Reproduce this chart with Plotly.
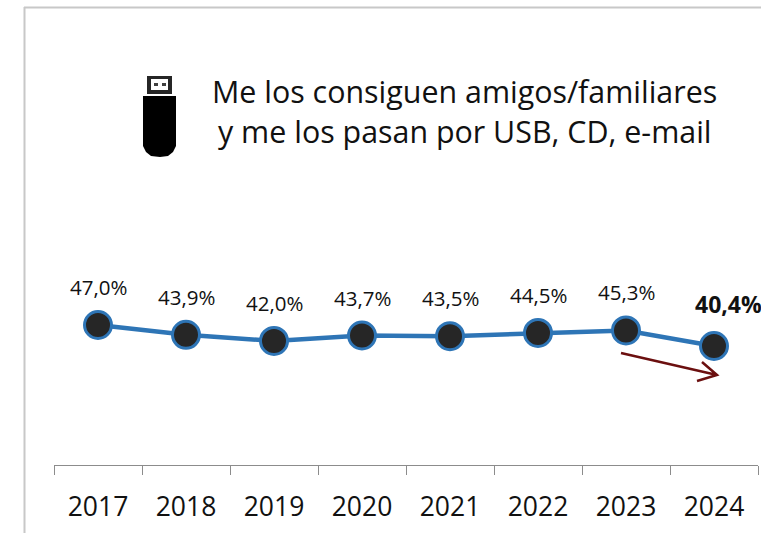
import plotly.graph_objects as go

W, H = 761, 533
PL, PR, PT, PB = 54, 758, 185, 465
years = ["2017", "2018", "2019", "2020", "2021", "2022", "2023", "2024"]
values = [47.0, 43.9, 42.0, 43.7, 43.5, 44.5, 45.3, 40.4]
labels = ["47,0%", "43,9%", "42,0%", "43,7%", "43,5%", "44,5%", "45,3%", "40,4%"]
title_lines = ["Me los consiguen amigos/familiares", "y me los pasan por USB, CD, e-mail"]
FONT = "Open Sans, Noto Sans, sans-serif"


def px(x):
    return (x - PL) / (PR - PL)


def py(y):
    return (PB - y) / (PB - PT)


def path(*pts):
    return " ".join(f"{c}{px(x):.5f},{py(y):.5f}" for c, x, y in pts)


fig = go.Figure(go.Scatter(
    x=years, y=values, mode="lines+markers", cliponaxis=False,
    line=dict(color="#2e75b6", width=4.5),
    marker=dict(size=27, color="#262626", line=dict(color="#2e75b6", width=3)),
    hoverinfo="skip",
))

shapes = [
    dict(type="line", xref="paper", yref="paper", x0=px(24.5), x1=px(24.5), y0=py(7), y1=py(533),
         line=dict(color="#c8c8c8", width=2)),
    dict(type="line", xref="paper", yref="paper", x0=px(24), x1=px(761), y0=py(7.5), y1=py(7.5),
         line=dict(color="#c8c8c8", width=2)),
    # arrow
    dict(type="path", xref="paper", yref="paper", line=dict(color="#6b0f0f", width=2.5),
         path=path(("M", 621, 353), ("L", 717, 375), ("M", 702, 362), ("L", 717, 375), ("L", 697, 381))),
    # USB icon
    dict(type="path", xref="paper", yref="paper", fillcolor="#000000", line=dict(width=0),
         path=path(("M", 143, 96), ("L", 176, 96), ("L", 176, 146), ("L", 173, 152), ("L", 168, 156),
                   ("L", 160, 157), ("L", 151, 156), ("L", 146, 152), ("L", 143, 146)) + " Z"),
    dict(type="rect", xref="paper", yref="paper", fillcolor="#262626", line=dict(width=0),
         x0=px(147), x1=px(172), y0=py(76), y1=py(94)),
    dict(type="rect", xref="paper", yref="paper", fillcolor="#ffffff", line=dict(width=0),
         x0=px(151), x1=px(168), y0=py(79), y1=py(90)),
    dict(type="rect", xref="paper", yref="paper", fillcolor="#404040", line=dict(width=0),
         x0=px(154), x1=px(158), y0=py(83), y1=py(86)),
    dict(type="rect", xref="paper", yref="paper", fillcolor="#404040", line=dict(width=0),
         x0=px(162), x1=px(166), y0=py(83), y1=py(86)),
]

annotations = []
for i, (v, lab) in enumerate(zip(values, labels)):
    last = i == len(years) - 1
    annotations.append(dict(
        x=i, y=v, xref="x", yref="y", showarrow=False, text=f"<b>{lab}</b>" if last else lab,
        xshift=14 if last else 0, yshift=42 if last else 38,
        font=dict(family=FONT, size=23 if last else 20.5, color="#111111"),
    ))
for line, y in zip(title_lines, (91, 131)):
    annotations.append(dict(
        x=px(464.5), y=py(y), xref="paper", yref="paper", showarrow=False, text=line,
        xanchor="center", yanchor="middle",
        font=dict(family=FONT, size=30.4, color="#111111"),
    ))

fig.update_layout(
    width=W, height=H, margin=dict(l=PL, r=W - PR, t=PT, b=H - PB),
    paper_bgcolor="white", plot_bgcolor="white", showlegend=False,
    font=dict(family=FONT), shapes=shapes, annotations=annotations,
    xaxis=dict(type="category", tickson="boundaries", ticks="outside", ticklen=9, tickwidth=1,
               tickcolor="#8c8c8c", showline=True, linecolor="#8c8c8c", linewidth=1, showgrid=False,
               tickfont=dict(family=FONT, size=26.5, color="#111111"), range=[-0.5, 7.5],
               ticklabelstandoff=18),
    yaxis=dict(visible=False, range=[3, 91]),
)
fig.write_html("out.html", config={"displayModeBar": False},
               post_script="document.body.style.margin='0';")
